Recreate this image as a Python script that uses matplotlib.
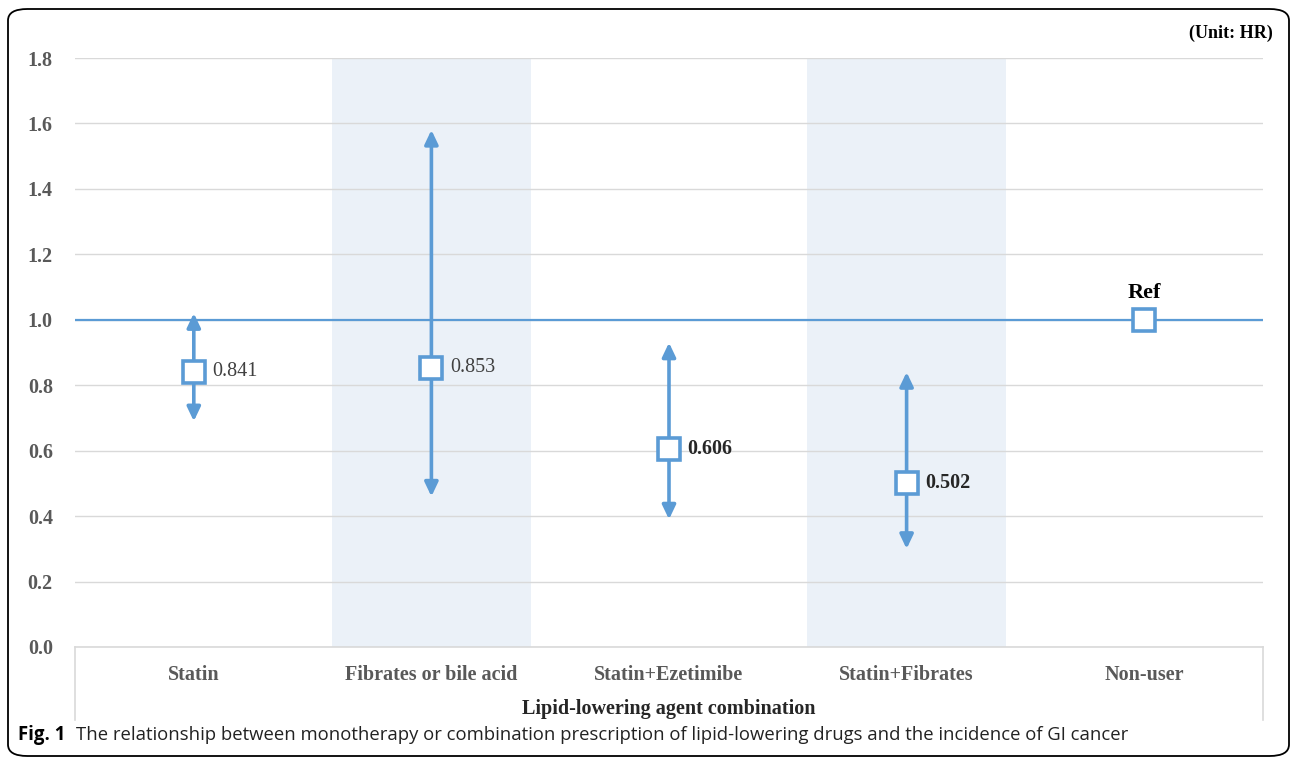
import matplotlib.pyplot as plt
from matplotlib.patches import FancyBboxPatch
from matplotlib.lines import Line2D

# ---------------------------
# Datos (HR e IC)
# ---------------------------
categories = ["Statin", "Fibrates or bile acid", "Statin+Ezetimibe",
              "Statin+Fibrates", "Non-user"]
hr = [0.841, 0.853, 0.606, 0.502, 1.0]
ci_lo = [0.69, 0.46, 0.39, 0.30, None]
ci_hi = [1.02, 1.58, 0.93, 0.84, None]
hr_labels = ["0.841", "0.853", "0.606", "0.502", "Ref"]
label_bold = [False, False, True, True, True]
shaded = [1, 3]
yticks = [0.0, 0.2, 0.4, 0.6, 0.8, 1.0, 1.2, 1.4, 1.6, 1.8]

blue = "#5B9BD5"
grid_c = "#D9D9D9"
txt_c = "#595959"
serif = ["Liberation Serif", "DejaVu Serif"]
sans = ["Open Sans", "DejaVu Sans"]

fig = plt.figure(figsize=(12.92, 7.61), dpi=100)
ax = fig.add_axes([75 / 1292, 1 - 647 / 761, (1263 - 75) / 1292, (647 - 58) / 761])

x = list(range(len(categories)))

# bandas sombreadas
for i in shaded:
    ax.axvspan(i - 0.42, i + 0.42, color="#EBF1F8", zorder=0, lw=0)

ax.set_xlim(-0.5, len(categories) - 0.5)
ax.set_ylim(0, 1.8)
ax.set_yticks(yticks)
ax.set_yticklabels([f"{v:.1f}" for v in yticks], fontfamily=serif,
                   fontweight="bold", fontsize=14.5, color=txt_c)
ax.set_xticks(x)
ax.set_xticklabels(categories, fontfamily=serif, fontweight="bold",
                   fontsize=14.5, color=txt_c)
ax.tick_params(axis="both", length=0)
ax.tick_params(axis="y", pad=16)
ax.tick_params(axis="x", pad=13)
ax.grid(axis="y", color=grid_c, lw=1, zorder=1)
ax.set_axisbelow(True)
for s in ["top", "right", "left"]:
    ax.spines[s].set_visible(False)
ax.spines["bottom"].set_color(grid_c)
ax.spines["bottom"].set_linewidth(1.2)

# líneas verticales bajo el eje (estilo Excel)
for xa in [0, 1]:
    ax.add_line(Line2D([xa, xa], [0, -73 / 589], transform=ax.transAxes,
                       color=grid_c, lw=1.2, clip_on=False))

ax.set_xlabel("Lipid-lowering agent combination", fontfamily=serif,
              fontweight="bold", fontsize=14.5, color="#262626", labelpad=10)

# línea de referencia
ax.axhline(1.0, color=blue, lw=1.6, zorder=2)

# flechas de IC
for i in x:
    if ci_lo[i] is None:
        continue
    ax.annotate("", xy=(i, ci_hi[i]), xytext=(i, ci_lo[i]),
                arrowprops=dict(arrowstyle="<|-|>,head_length=0.42,head_width=0.2",
                                color=blue, lw=2.6, mutation_scale=20,
                                shrinkA=0, shrinkB=0), zorder=3)

# marcadores
ax.plot(x, hr, ls="none", marker="s", markersize=16.5, markerfacecolor="white",
        markeredgecolor=blue, markeredgewidth=2.6, zorder=4)

# etiquetas
for i in x:
    if hr_labels[i] == "Ref":
        ax.annotate("Ref", (i, hr[i]), xytext=(0, 12), textcoords="offset points",
                    ha="center", va="bottom", fontfamily=serif, fontweight="bold",
                    fontsize=16, color="black")
    else:
        ax.annotate(hr_labels[i], (i, hr[i]), xytext=(13.5, 0),
                    textcoords="offset points", ha="left", va="center",
                    fontfamily=serif,
                    fontweight="bold" if label_bold[i] else "normal",
                    fontsize=14.5, color="#262626" if label_bold[i] else "#404040")

fig.text(1273 / 1292, 1 - 33 / 761, "(Unit: HR)", ha="right", va="center",
         fontfamily=serif, fontweight="bold", fontsize=13, color="black")

# pie de figura
fig.text(18 / 1292, 1 - 735 / 761, "Fig. 1", ha="left", va="center",
         fontfamily=sans, fontweight="bold", fontsize=13.4)
fig.text(76 / 1292, 1 - 735 / 761,
         "The relationship between monotherapy or combination prescription of "
         "lipid-lowering drugs and the incidence of GI cancer",
         ha="left", va="center", fontfamily=sans, fontsize=13.3, color="#222222")

# marco redondeado
frame = FancyBboxPatch((8 / 1292, 1 - 756 / 761), (1289 - 8) / 1292, (756 - 9) / 761,
                       boxstyle="round,pad=0,rounding_size=0.015",
                       transform=fig.transFigure, fill=False, ec="black", lw=1.3)
fig.patches.append(frame)

fig.savefig("out.png", dpi=100)
